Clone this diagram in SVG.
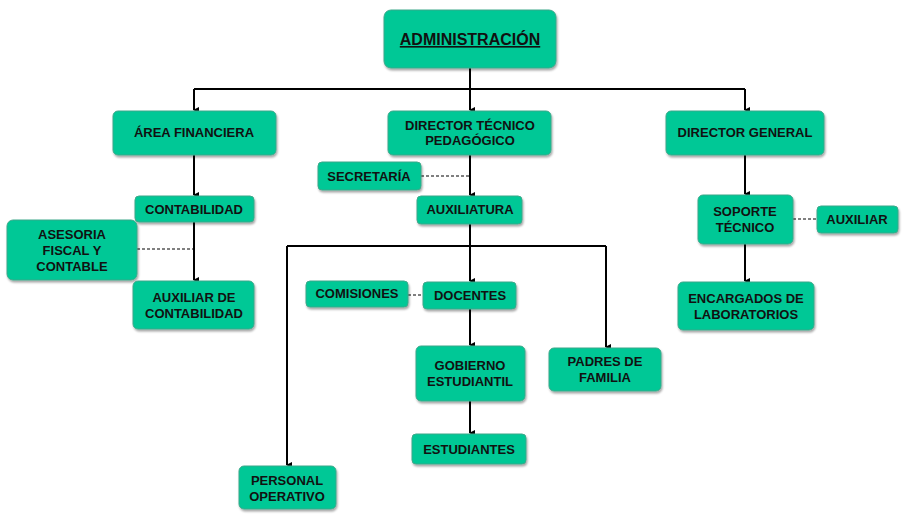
<svg xmlns="http://www.w3.org/2000/svg" width="905" height="515" viewBox="0 0 905 515">
<defs>
<marker id="a" markerWidth="8" markerHeight="8" refX="4" refY="6" orient="auto" markerUnits="userSpaceOnUse" viewBox="0 0 8 8"><path d="M1,1 L4,7 L7,1 Z" fill="#000"/></marker>
<filter id="sh" x="-10%" y="-10%" width="130%" height="140%"><feDropShadow dx="1" dy="2" stdDeviation="1.2" flood-color="#000" flood-opacity="0.35"/></filter>
</defs>
<style>
.n rect{fill:#00C896;stroke:#3FA88A;stroke-width:1;filter:url(#sh)}
.n text{font-family:"Liberation Sans",Arial,sans-serif;font-weight:bold;font-size:13px;fill:#111;text-anchor:middle}
.c path{fill:none;stroke:#000;stroke-width:2}
.c .d{stroke-width:1;stroke-dasharray:3,2}
</style>
<rect width="905" height="515" fill="#fff"/>
<g class="c">
<path d="M470,68 V89 M194,89 H745"/>
<path d="M194,89 V110" marker-end="url(#a)"/>
<path d="M470,89 V110" marker-end="url(#a)"/>
<path d="M745,89 V110" marker-end="url(#a)"/>
<path d="M194,155 V195" marker-end="url(#a)"/>
<path d="M194,222 V280" marker-end="url(#a)"/>
<path class="d" d="M137,249 H194"/>
<path d="M470,155 V195" marker-end="url(#a)"/>
<path class="d" d="M421,176 H470"/>
<path d="M470,224 V281" marker-end="url(#a)"/>
<path d="M287,246 H606"/>
<path d="M287,246 V465" marker-end="url(#a)"/>
<path d="M606,246 V347" marker-end="url(#a)"/>
<path class="d" d="M408,295 H423"/>
<path d="M470,309 V345" marker-end="url(#a)"/>
<path d="M470,401 V433" marker-end="url(#a)"/>
<path d="M745,155 V194" marker-end="url(#a)"/>
<path d="M745,244 V281" marker-end="url(#a)"/>
<path class="d" d="M793,219 H817"/>
</g>
<g id="admin" class="n"><rect x="384" y="10" width="172" height="58" rx="7"/><text x="470" y="45" style="font-size:16px;text-decoration:underline">ADMINISTRACIÓN</text></g>
<g id="area" class="n"><rect x="113" y="111" width="163" height="44" rx="5"/><text x="194" y="137">ÁREA FINANCIERA</text></g>
<g id="dtp" class="n"><rect x="388" y="111" width="163" height="44" rx="5"/><text x="470" y="130">DIRECTOR TÉCNICO</text><text x="470" y="145">PEDAGÓGICO</text></g>
<g id="dg" class="n"><rect x="666" y="111" width="158" height="44" rx="5"/><text x="745" y="137">DIRECTOR GENERAL</text></g>
<g id="secretaria" class="n"><rect x="318" y="162" width="103" height="28" rx="4"/><text x="369" y="181">SECRETARÍA</text></g>
<g id="contabilidad" class="n"><rect x="135" y="196" width="119" height="26" rx="4"/><text x="194" y="214">CONTABILIDAD</text></g>
<g id="auxiliatura" class="n"><rect x="417" y="196" width="105" height="28" rx="4"/><text x="470" y="214">AUXILIATURA</text></g>
<g id="soporte" class="n"><rect x="698" y="195" width="95" height="49" rx="5"/><text x="745" y="216">SOPORTE</text><text x="745" y="232">TÉCNICO</text></g>
<g id="auxiliar" class="n"><rect x="817" y="206" width="81" height="27" rx="4"/><text x="857" y="224">AUXILIAR</text></g>
<g id="asesoria" class="n"><rect x="7" y="220" width="130" height="60" rx="6"/><text x="72" y="239">ASESORIA</text><text x="72" y="255">FISCAL Y</text><text x="72" y="271">CONTABLE</text></g>
<g id="auxcontab" class="n"><rect x="133" y="281" width="121" height="48" rx="5"/><text x="194" y="302">AUXILIAR DE</text><text x="194" y="318">CONTABILIDAD</text></g>
<g id="comisiones" class="n"><rect x="306" y="281" width="102" height="26" rx="4"/><text x="357" y="298">COMISIONES</text></g>
<g id="docentes" class="n"><rect x="423" y="282" width="93" height="27" rx="4"/><text x="470" y="300">DOCENTES</text></g>
<g id="encargados" class="n"><rect x="678" y="282" width="136" height="48" rx="5"/><text x="746" y="303">ENCARGADOS DE</text><text x="746" y="319">LABORATORIOS</text></g>
<g id="gobierno" class="n"><rect x="416" y="346" width="109" height="55" rx="5"/><text x="470" y="370">GOBIERNO</text><text x="470" y="386">ESTUDIANTIL</text></g>
<g id="padres" class="n"><rect x="549" y="348" width="112" height="43" rx="5"/><text x="605" y="366">PADRES DE</text><text x="605" y="382">FAMILIA</text></g>
<g id="estudiantes" class="n"><rect x="412" y="434" width="114" height="30" rx="4"/><text x="469" y="454">ESTUDIANTES</text></g>
<g id="personal" class="n"><rect x="239" y="466" width="97" height="43" rx="5"/><text x="287" y="485">PERSONAL</text><text x="287" y="501">OPERATIVO</text></g>
</svg>
